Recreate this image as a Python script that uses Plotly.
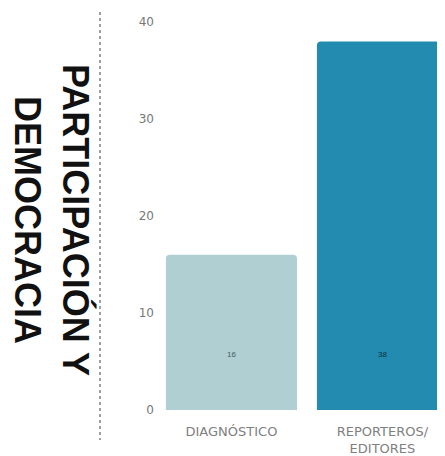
import plotly.graph_objects as go

categories = ["DIAGNÓSTICO", "REPORTEROS/<br>EDITORES"]
values = [16, 38]
bar_colors = ["#AFCFD2", "#238BB0"]
label_colors = ["#4a5a5c", "#0d2f40"]
y_ticks = [0, 10, 20, 30, 40]
title_lines = ["PARTICIPACIÓN Y", "DEMOCRACIA"]

# page body has an 8px margin; figure sized to fill the rest of the window
OFF = 8
W, H = 445 - OFF, 456 - OFF
L, R, T, B = 157, 0, 14, 46
pw, ph = W - L - R, H - T - B

def px_x(p):
    return (p - OFF - L) / pw

def px_y(p):
    return (H - B - (p - OFF)) / ph

fig = go.Figure(go.Bar(
    x=[0, 1], y=values,
    marker=dict(color=bar_colors, line=dict(width=0), cornerradius=4),
    width=0.868,
    hoverinfo="skip",
))

for i, v in enumerate(values):
    fig.add_annotation(x=i, y=5.7, xref="x", yref="y", text=str(v), showarrow=False,
                       font=dict(size=8, color=label_colors[i], family="Liberation Sans"))

title_x = [76, 28]
for t, xp in zip(title_lines, title_x):
    fig.add_annotation(x=px_x(xp), y=px_y(220), xref="paper", yref="paper", text="<b>%s</b>" % t,
                       textangle=90, showarrow=False, xanchor="center", yanchor="middle",
                       font=dict(size=36, color="#111111", family="Liberation Sans"))

fig.add_shape(type="line", xref="paper", yref="paper",
              x0=px_x(100), x1=px_x(100), y0=px_y(12), y1=px_y(440),
              line=dict(color="#808080", width=1.5, dash="dot"))

fig.update_xaxes(range=[-0.44, -0.44 + pw / 151.0], tickvals=[0, 1], ticktext=categories,
                 showgrid=False, zeroline=False, showline=False, ticks="", ticklabelstandoff=12,
                 tickfont=dict(size=13, color="#808080", family="DejaVu Sans"))
fig.update_yaxes(range=[0, 40], tickvals=y_ticks, showgrid=False, zeroline=False, showline=False,
                 ticks="", ticklabelstandoff=10,
                 tickfont=dict(size=12, color="#777777", family="DejaVu Sans"))

fig.update_layout(width=W, height=H, margin=dict(l=L, r=R, t=T, b=B),
                  plot_bgcolor="white", paper_bgcolor="white", showlegend=False)

fig.write_html("out.html")
